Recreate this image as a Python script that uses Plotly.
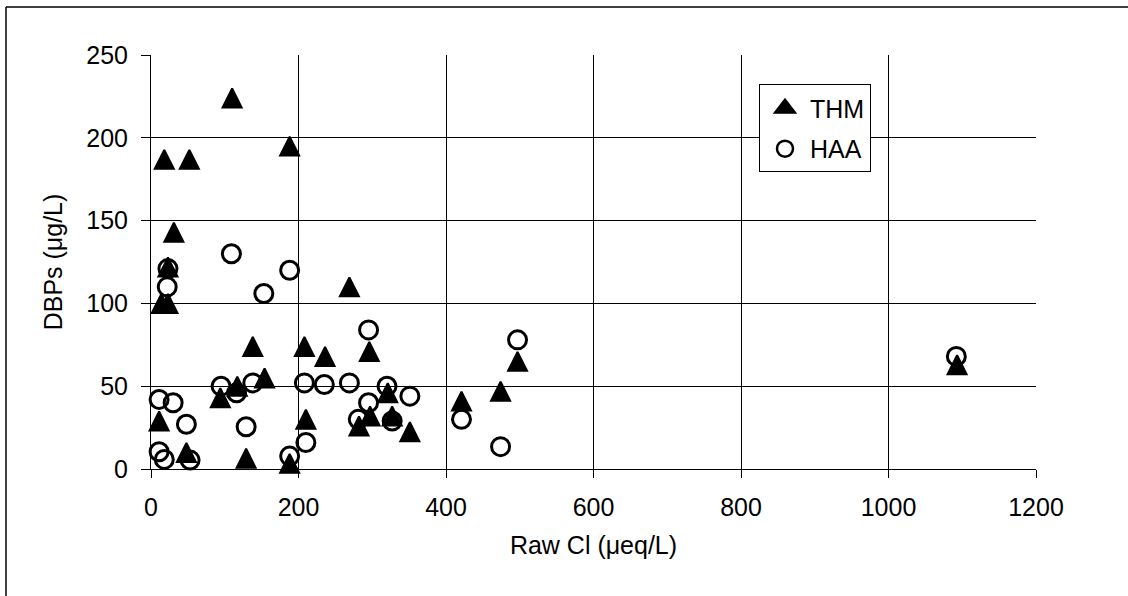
import plotly.graph_objects as go

# THM series (triangles)
thm_x = [110, 18, 52, 188, 31, 23, 14, 23, 138, 208, 236, 296, 154, 117, 94, 321,
         11, 210, 297, 282, 327, 351, 48, 129, 188, 269, 421, 474, 497, 1093]
thm_y = [224, 187, 187, 195, 143, 122, 100, 100, 74, 74, 68, 71, 55, 50, 43, 46,
         29, 30, 32, 26, 32, 22.5, 10, 6.5, 3.4, 110, 41, 47, 65, 63]

# HAA series (open circles)
haa_x = [109, 23, 22, 188, 153, 295, 95, 116, 138, 208, 235, 269, 320, 351, 295,
         11, 30, 48, 129, 281, 327, 210, 11, 18, 53, 188, 421, 474, 497, 1092]
haa_y = [130, 121, 110, 120, 106, 84, 50, 46, 52, 52, 51, 52, 50, 44, 40,
         42, 40, 27, 25.5, 30, 29, 16, 10.4, 5.8, 5.4, 7.8, 30, 13.5, 78, 68]

x_ticks = [0, 200, 400, 600, 800, 1000, 1200]
y_ticks = [0, 50, 100, 150, 200, 250]

FONT = "Liberation Sans, Arial, sans-serif"
TRI = 19

fig = go.Figure()
# data traces (HAA drawn first so triangles sit on top)
fig.add_trace(go.Scatter(
    x=haa_x, y=haa_y, mode="markers", name="HAA", showlegend=False,
    cliponaxis=False,
    marker=dict(symbol="circle-open", size=18, color="black",
                line=dict(color="black", width=3)),
))
fig.add_trace(go.Scatter(
    x=thm_x, y=thm_y, mode="markers", name="THM", showlegend=False,
    cliponaxis=False,
    marker=dict(symbol="arrow-down", angle=180, standoff=TRI / 2, size=TRI,
                color="black", line=dict(color="black", width=2)),
))
# legend entries
fig.add_trace(go.Scatter(
    x=[None], y=[None], mode="markers", name="THM", legendgroup="thm",
    legendrank=1,
    marker=dict(symbol="triangle-up", size=16, color="black",
                line=dict(color="black", width=3)),
))
fig.add_trace(go.Scatter(
    x=[None], y=[None], mode="markers", name="HAA", legendgroup="haa",
    legendrank=2,
    marker=dict(symbol="circle-open", size=16, color="black",
                line=dict(color="black", width=2.5)),
))

fig.update_layout(
    width=1128, height=596,
    margin=dict(l=151, r=92, t=55, b=127),
    paper_bgcolor="white", plot_bgcolor="white",
    font=dict(family=FONT, size=25, color="black"),
    showlegend=True,
    legend=dict(
        x=0.687, y=0.929, xanchor="left", yanchor="top",
        bgcolor="white", bordercolor="black", borderwidth=1,
        font=dict(family=FONT, size=25, color="black"),
        traceorder="grouped", tracegroupgap=5,
        itemwidth=40, itemsizing="trace",
    ),
    xaxis=dict(
        range=[0, 1200], tickvals=x_ticks, ticktext=[str(v) for v in x_ticks],
        showgrid=True, gridcolor="black", gridwidth=1,
        showline=True, linecolor="black", linewidth=1, mirror=False,
        ticks="outside", ticklen=8, tickcolor="black", tickwidth=1,
        zeroline=False, ticklabelstandoff=8,
        title=dict(text="Raw Cl (μeq/L)", standoff=16,
                   font=dict(family=FONT, size=25, color="black")),
    ),
    yaxis=dict(
        range=[0, 250], tickvals=y_ticks, ticktext=[str(v) for v in y_ticks],
        showgrid=True, gridcolor="black", gridwidth=1,
        showline=True, linecolor="black", linewidth=1,
        ticks="outside", ticklen=9, tickcolor="black", tickwidth=1,
        zeroline=False, ticklabelstandoff=8,
        title=dict(text="DBPs (μg/L)", standoff=16,
                   font=dict(family=FONT, size=25, color="black")),
    ),
)

# outer frame (top and left edges of the chart area)
fig.add_shape(type="line", xref="paper", yref="paper",
              x0=(6 - 151) / 885, x1=(1128 - 151) / 885,
              y0=(469 - 7) / 414, y1=(469 - 7) / 414,
              line=dict(color="black", width=1.5))
fig.add_shape(type="line", xref="paper", yref="paper",
              x0=(6 - 151) / 885, x1=(6 - 151) / 885,
              y0=(469 - 7) / 414, y1=(469 - 600) / 414,
              line=dict(color="black", width=1.5))

fig.write_html("out.html")
